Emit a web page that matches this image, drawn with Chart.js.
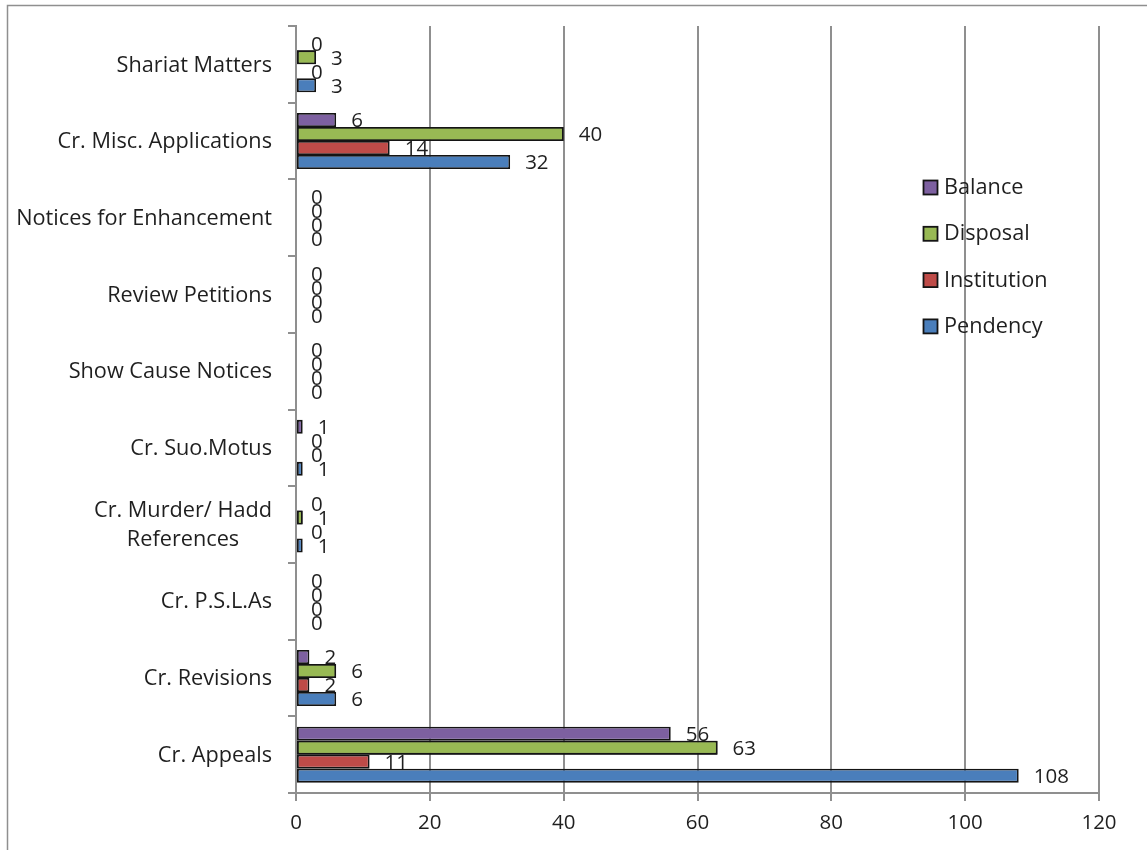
<!DOCTYPE html>
<html>
<head>
<meta charset="utf-8">
<title>Criminal cases: pendency, institution, disposal and balance</title>
<script src="https://cdn.jsdelivr.net/npm/chart.js@4.4.1/dist/chart.umd.min.js"></script>
<style>
  html, body { margin: 0; padding: 0; background: #ffffff; }
  #wrap { position: relative; width: 1147px; height: 850px; }
  canvas { display: block; }
</style>
</head>
<body>
<div id="wrap"><canvas id="chart" width="1147" height="850"></canvas></div>
<script>
// Case categories, listed from the top of the chart downwards
const categories = [
  'Shariat Matters',
  'Cr. Misc. Applications',
  'Notices for Enhancement',
  'Review Petitions',
  'Show Cause Notices',
  'Cr. Suo.Motus',
  ['Cr. Murder/ Hadd', 'References'],
  'Cr. P.S.L.As',
  'Cr. Revisions',
  'Cr. Appeals'
];

// Case counts per category
const balance     = [0,  6, 0, 0, 0, 1, 0, 0, 2,  56];
const disposal    = [3, 40, 0, 0, 0, 0, 1, 0, 6,  63];
const institution = [0, 14, 0, 0, 0, 0, 0, 0, 2,  11];
const pendency    = [3, 32, 0, 0, 0, 1, 1, 0, 6, 108];

// Value axis ticks
const xTicks = [0, 20, 40, 60, 80, 100, 120];

const FONT = '"Open Sans", "DejaVu Sans", sans-serif';
const WORD_FONT = '21.7px ' + FONT;   // category names and legend
const NUM_FONT = '20.5px ' + FONT;    // value labels
const TEXT = '#1f1f1f';
const AXIS = '#8f8f8f';
const EDGE = '#141414';

function series(label, data, color) {
  return {
    label,
    data,
    backgroundColor: color,
    borderColor: EDGE,
    borderWidth: (c) => (c.raw === 0 ? 0 : 1.8),
    borderSkipped: false,
    categoryPercentage: 0.73,
    barPercentage: 1.0
  };
}

// Dataset order gives the stacking inside each group (first = top)
const datasets = [
  series('Balance', balance, '#7D60A0'),
  series('Disposal', disposal, '#98B954'),
  series('Institution', institution, '#BE4B48'),
  series('Pendency', pendency, '#4A7EBB')
];

// White page with the frame line on the top and left
const framePlugin = {
  id: 'frame',
  beforeDraw(chart) {
    const ctx = chart.ctx;
    ctx.save();
    ctx.fillStyle = '#ffffff';
    ctx.fillRect(0, 0, chart.width, chart.height);
    ctx.strokeStyle = AXIS;
    ctx.lineWidth = 1.5;
    ctx.beginPath();
    ctx.moveTo(7.5, chart.height);
    ctx.lineTo(7.5, 5.5);
    ctx.lineTo(chart.width, 5.5);
    ctx.stroke();
    ctx.restore();
  }
};

// Category names: right-aligned block beside the axis, lines centred in the block
const categoryLabelPlugin = {
  id: 'categoryLabels',
  afterDraw(chart) {
    const ctx = chart.ctx;
    const y = chart.scales.y;
    const right = y.right - 24;
    const lineH = 28.5;
    ctx.save();
    ctx.font = WORD_FONT;
    ctx.fillStyle = TEXT;
    ctx.textBaseline = 'middle';
    ctx.textAlign = 'center';
    chart.data.labels.forEach((lab, i) => {
      const lines = Array.isArray(lab) ? lab : [lab];
      const w = Math.max(...lines.map((l) => ctx.measureText(l).width));
      const cx = right - w / 2;
      const cy = y.getPixelForValue(i);
      const top = cy - (lines.length - 1) * lineH / 2;
      lines.forEach((l, k) => ctx.fillText(l, cx, top + k * lineH + 1));
    });
    ctx.restore();
  }
};

// Value labels beside each bar; the Disposal bars are laid over the neighbouring labels
const valueLabelPlugin = {
  id: 'valueLabels',
  afterDatasetsDraw(chart) {
    const ctx = chart.ctx;
    const byName = (n) => chart.data.datasets.findIndex((d) => d.label === n);
    const drawLabels = (i) => {
      const meta = chart.getDatasetMeta(i);
      const data = chart.data.datasets[i].data;
      ctx.save();
      ctx.font = NUM_FONT;
      ctx.fillStyle = TEXT;
      ctx.textAlign = 'left';
      ctx.textBaseline = 'middle';
      meta.data.forEach((bar, j) => {
        ctx.fillText(String(data[j]), bar.x + 15, bar.y + 1.5);
      });
      ctx.restore();
    };
    ['Pendency', 'Institution', 'Balance'].forEach((n) => drawLabels(byName(n)));
    const d = byName('Disposal');
    chart.getDatasetMeta(d).controller.draw();
    drawLabels(d);
  }
};

// Legend to the right, inside the plot, top entry = Balance
const legendPlugin = {
  id: 'sideLegend',
  afterDraw(chart) {
    const ctx = chart.ctx;
    const x0 = 923.5, y0 = 180.5, step = 46.3, box = 14;
    ctx.save();
    ctx.font = WORD_FONT;
    ctx.textBaseline = 'middle';
    ctx.textAlign = 'left';
    chart.data.datasets.forEach((ds, i) => {
      const y = y0 + i * step;
      ctx.fillStyle = ds.backgroundColor;
      ctx.fillRect(x0, y, box, box);
      ctx.strokeStyle = EDGE;
      ctx.lineWidth = 1.8;
      ctx.strokeRect(x0, y, box, box);
      ctx.fillStyle = TEXT;
      ctx.fillText(ds.label, x0 + 20.5, y + box / 2 + 0.5);
    });
    ctx.restore();
  }
};

new Chart(document.getElementById('chart'), {
  type: 'bar',
  data: { labels: categories, datasets },
  plugins: [framePlugin, valueLabelPlugin, categoryLabelPlugin, legendPlugin],
  options: {
    indexAxis: 'y',
    responsive: false,
    animation: false,
    events: [],
    layout: { padding: { top: 26, right: 48, bottom: 0, left: 0 } },
    plugins: {
      legend: { display: false },
      tooltip: { enabled: false }
    },
    scales: {
      x: {
        type: 'linear',
        position: 'bottom',
        min: xTicks[0],
        max: xTicks[xTicks.length - 1],
        afterBuildTicks(scale) {
          scale.ticks = xTicks.map((v) => ({ value: v }));
        },
        ticks: {
          color: TEXT,
          font: { family: FONT, size: 20.5 },
          padding: 10
        },
        grid: { color: AXIS, lineWidth: 2, drawTicks: true, tickLength: 8 },
        border: { display: true, color: AXIS, width: 2 },
        afterFit(scale) { scale.height = 57; }
      },
      y: {
        type: 'category',
        position: 'left',
        ticks: { display: false },
        grid: { drawOnChartArea: false, drawTicks: true, tickLength: 8, color: AXIS, lineWidth: 2, offset: true },
        border: { display: true, color: AXIS, width: 2 },
        afterFit(scale) { scale.width = 296; }
      }
    }
  }
});
</script>
</body>
</html>
